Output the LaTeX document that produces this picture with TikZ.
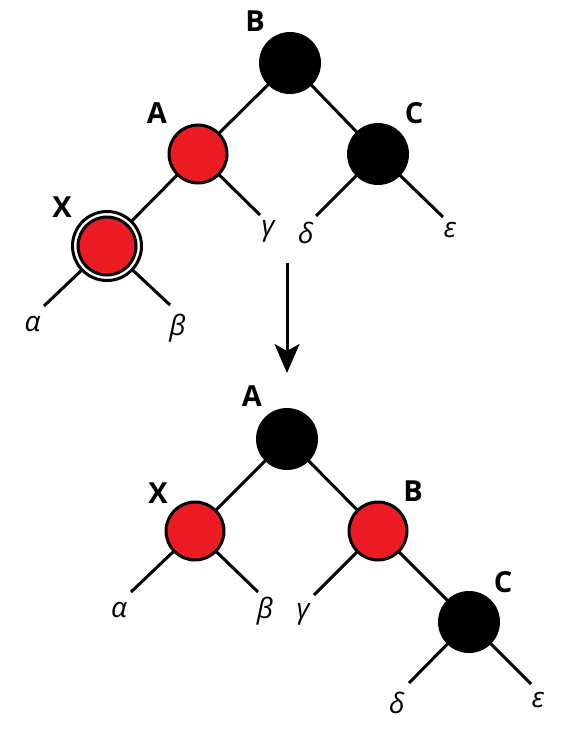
\documentclass[tikz,border=0pt]{standalone}
\usepackage{fontspec}
\setmainfont{Open Sans}
\usetikzlibrary{arrows.meta}
\definecolor{rbred}{HTML}{ED1C24}
\tikzset{
  edge/.style={line width=3pt},
  rednode/.style={circle, fill=rbred, draw=black, line width=3pt, minimum size=58pt, inner sep=0pt},
  blacknode/.style={circle, fill=black, draw=none, minimum size=62pt, inner sep=0pt},
  dblnode/.style={circle, draw=black, line width=3pt, fill=white, minimum size=69pt, inner sep=0pt},
  lbl/.style={font=\fontsize{29}{29}\selectfont\bfseries, inner sep=0pt},
  greek/.style={font=\fontsize{28}{28}\selectfont\itshape, inner sep=0pt},
}
\begin{document}
\begin{tikzpicture}[x=1pt,y=-1pt]
\useasboundingbox (0,0) rectangle (566,733);
% top tree coordinates
\coordinate (tB) at (290,63);
\coordinate (tA) at (198,154);
\coordinate (tC) at (378,154);
\coordinate (tX) at (107,246);
\coordinate (tXa) at (44,306);
\coordinate (tXb) at (170,305);
\coordinate (tAg) at (260,215);
\coordinate (tCd) at (316,216);
\coordinate (tCe) at (443,217);
% top edges
\draw[edge] (tB) -- (tA);
\draw[edge] (tB) -- (tC);
\draw[edge] (tA) -- (tX);
\draw[edge] (tX) -- (tXa);
\draw[edge] (tX) -- (tXb);
\draw[edge] (tA) -- (tAg);
\draw[edge] (tC) -- (tCd);
\draw[edge] (tC) -- (tCe);
% top nodes
\node[blacknode] (nB) at (tB) {};
\node[rednode] (nA) at (tA) {};
\node[blacknode] (nC) at (tC) {};
\node[dblnode] (nXo) at (tX) {};
\node[rednode] (nX) at (tX) {};
\node[lbl] (lB) at (255,21.5) {B};
\node[lbl] (lA) at (157,113.5) {A};
\node[lbl] (lC) at (414,113) {C};
\node[lbl] (lX) at (62,207) {X};
\node[greek] (ga) at (32.5,324.5) {α};
\node[greek] (gb) at (177.5,328) {β};
\node[greek] (gg) at (268,231) {γ};
\node[greek] (gd) at (306,233) {δ};
\node[greek] (ge) at (450,230) {ε};
% arrow
\coordinate (arS) at (287,263);
\coordinate (arE) at (287,373);
\draw[line width=3pt, -{Stealth[length=29pt, width=25pt, inset=7pt]}] (arS) -- (arE);
% bottom tree coordinates
\coordinate (bA) at (287,439);
\coordinate (bX) at (195,531);
\coordinate (bB) at (378,531);
\coordinate (bC) at (469,622);
\coordinate (bXa) at (131,592);
\coordinate (bXb) at (258,592);
\coordinate (bBg) at (314,595);
\coordinate (bCd) at (409,683);
\coordinate (bCe) at (531,684);
\draw[edge] (bA) -- (bX);
\draw[edge] (bA) -- (bB);
\draw[edge] (bB) -- (bC);
\draw[edge] (bX) -- (bXa);
\draw[edge] (bX) -- (bXb);
\draw[edge] (bB) -- (bBg);
\draw[edge] (bC) -- (bCd);
\draw[edge] (bC) -- (bCe);
\node[blacknode] (mA) at (bA) {};
\node[rednode] (mX) at (bX) {};
\node[rednode] (mB) at (bB) {};
\node[blacknode] (mC) at (bC) {};
\node[lbl] (kA) at (252,396) {A};
\node[lbl] (kX) at (158,493) {X};
\node[lbl] (kB) at (413,491) {B};
\node[lbl] (kC) at (503,582) {C};
\node[greek] (ha) at (119,610) {α};
\node[greek] (hb) at (265,611) {β};
\node[greek] (hg) at (303,614) {γ};
\node[greek] (hd) at (397,703) {δ};
\node[greek] (he) at (538,700) {ε};
\end{tikzpicture}
\end{document}
